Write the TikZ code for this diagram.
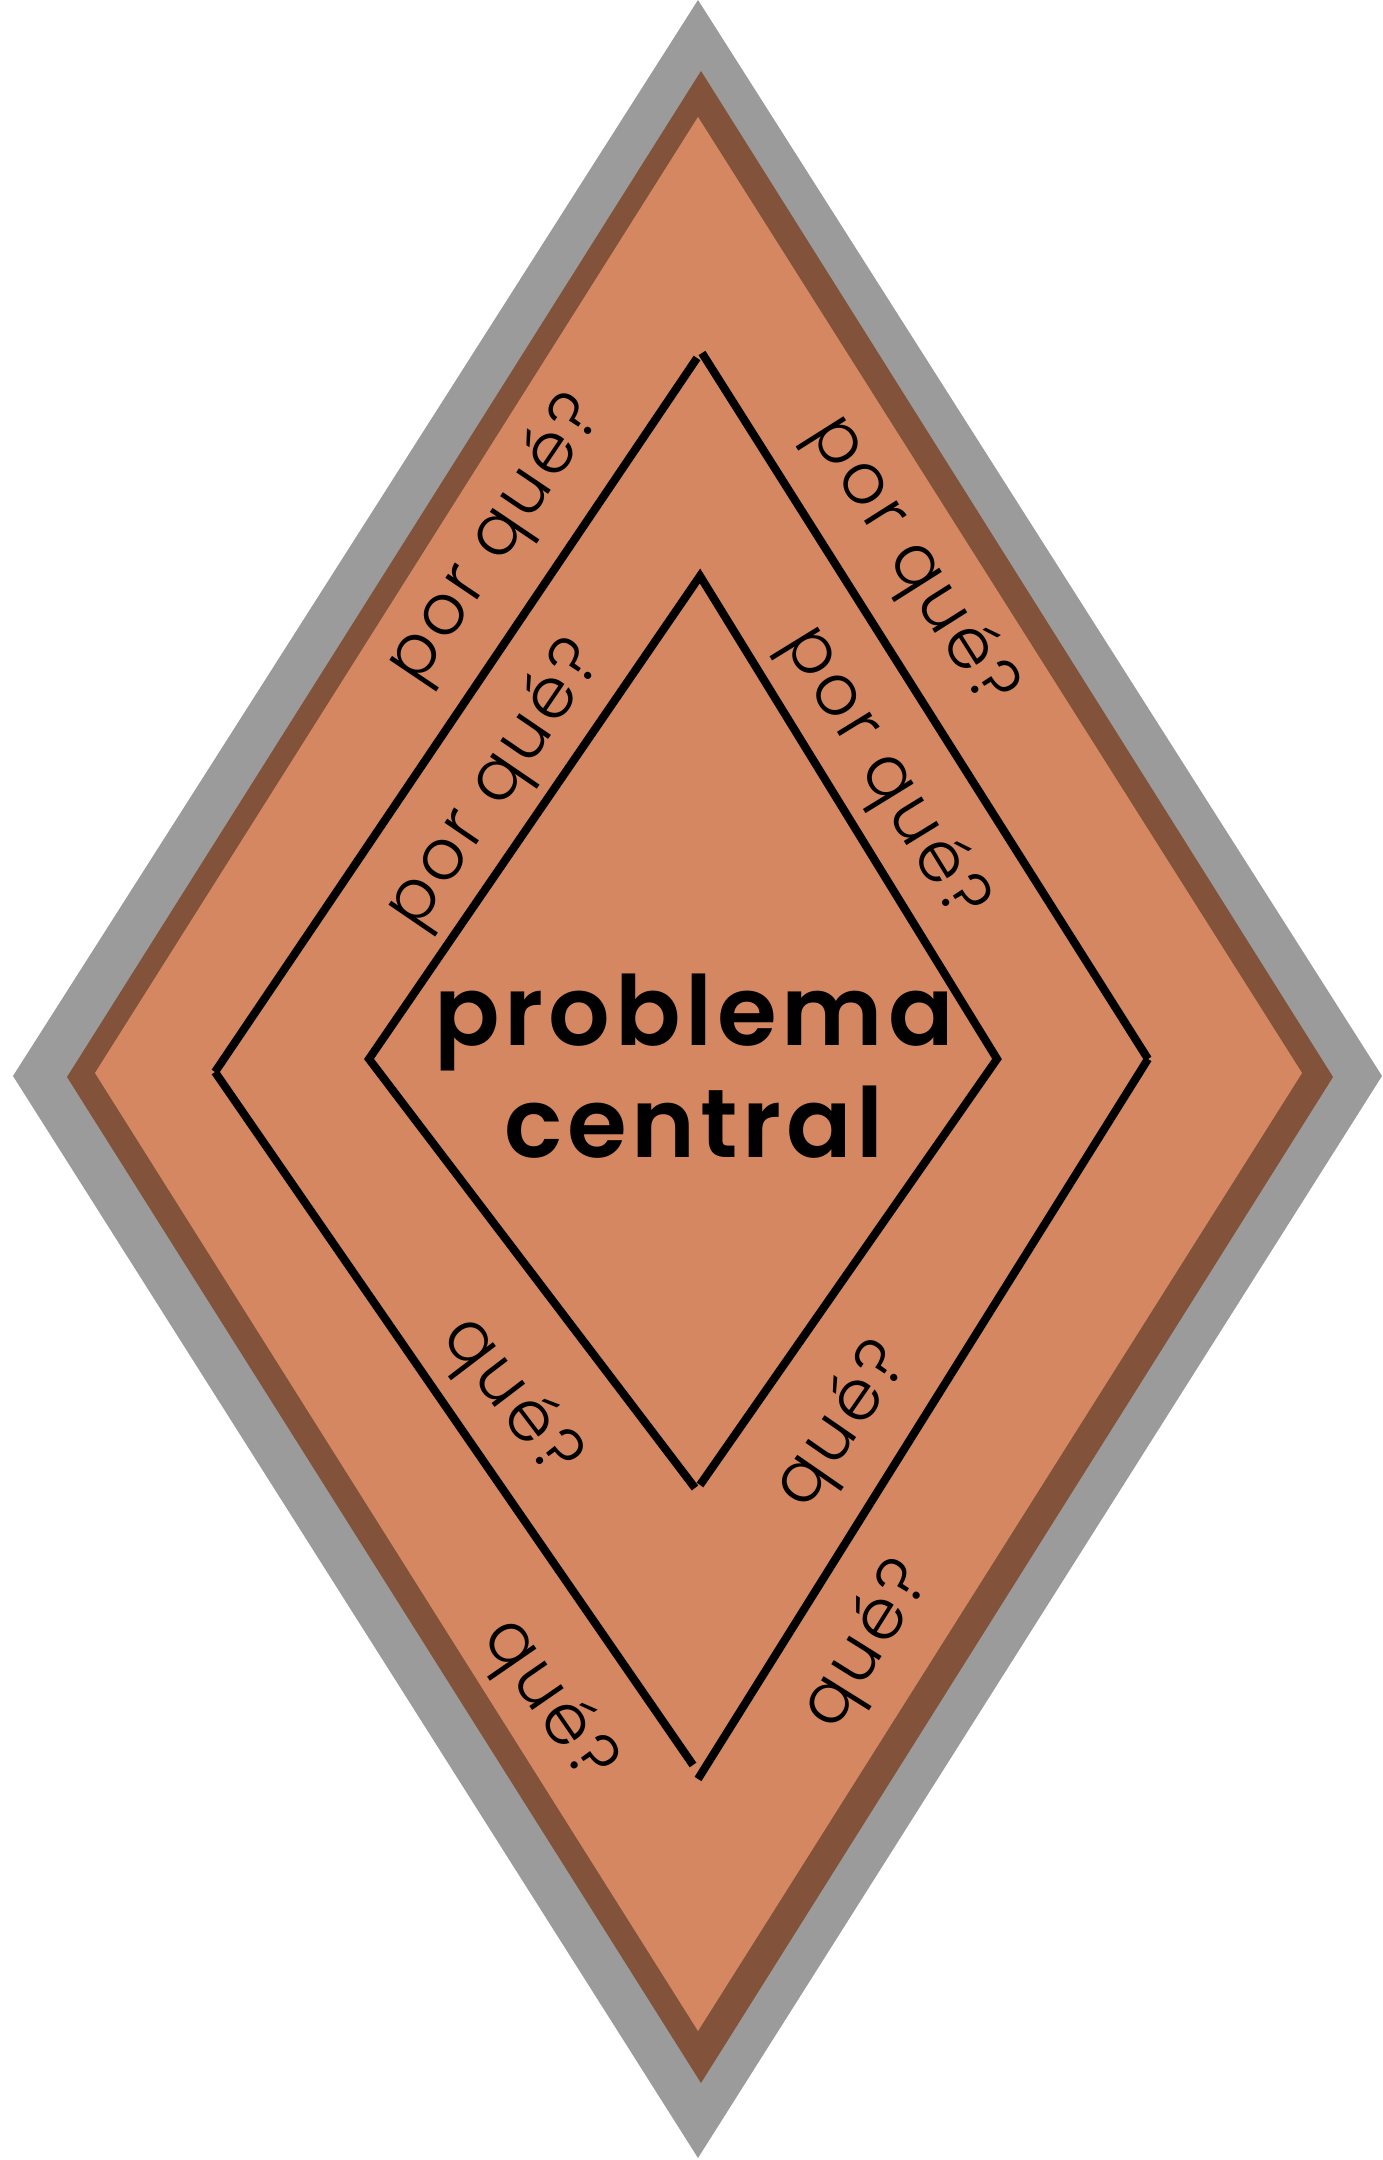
\documentclass[tikz,border=0pt]{standalone}
\usepackage{fontspec}
\usepackage{xcolor}
\usepackage{tikz}
\newfontfamily\whyfont{Poppins Light}[LetterSpace=5]
\newfontfamily\coreFont{Poppins}[LetterSpace=5, BoldFont={* SemiBold}]
\definecolor{rmgray}{HTML}{9B9B9B}
\definecolor{rmbrown}{HTML}{82533A}
\definecolor{rmorange}{HTML}{D48760}

\tikzset{
  chevron/.style={line width=2.3pt, black, line join=miter},
  why/.style={inner sep=0pt, font=\whyfont\fontsize{20}{24}\selectfont},
  core/.style={inner sep=0pt, align=center, font=\coreFont\bfseries\fontsize{27.5}{32}\selectfont}
}

\begin{document}
\begin{tikzpicture}[x=0.01cm, y=0.01cm]
  \useasboundingbox (0,0) rectangle (1383,2160);

  % Diamond frame
  \fill[rmgray] (698,2160) -- (13,1084) -- (698,2) -- (1382,1084) -- cycle;
  \fill[rmbrown] (701,2089) -- (67,1083) -- (701,77) -- (1333,1083) -- cycle;
  \fill[rmorange] (698,2043) -- (95,1087) -- (698,129) -- (1302,1087) -- cycle;

  % Outer chevrons
  \coordinate (oL) at (215,1088);
  \coordinate (oTa) at (697,1802);
  \coordinate (oTb) at (702,1807);
  \coordinate (oR) at (1148,1101);
  \coordinate (oBa) at (693,395);
  \coordinate (oBb) at (698,381);
  \draw[chevron] (oL) -- (oTa);
  \draw[chevron] (oTb) -- (oR);
  \draw[chevron] (oR) -- (oBb);
  \draw[chevron] (oBa) -- (oL);

  % Inner chevrons
  \coordinate (iL) at (369,1101);
  \coordinate (iT) at (700,1584);
  \coordinate (iR) at (997,1101);
  \coordinate (iBa) at (695,672);
  \coordinate (iBb) at (700,675);
  \draw[chevron] (iBa) -- (iL) -- (iT) -- (iR) -- (iBb);

  % Questions along the bands
  \node[why, rotate=56] (whyOL) at (496,1620) {por qué?};
  \node[why, rotate=-57.7] (whyOR) at (912,1598) {por qué?};
  \node[why, rotate=55.7] (whyIL) at (496,1375) {por qué?};
  \node[why, rotate=-58.4] (whyIR) at (884,1386) {por qué?};
  \node[why, rotate=-52.7] (queIL) at (510,762) {qué?};
  \node[why, rotate=55.3] (queIR) at (843,734) {qué?};
  \node[why, rotate=-55.4] (queOL) at (548,459) {qué?};
  \node[why, rotate=58] (queOR) at (868,514) {qué?};

  % Central problem
  \node[core] (problem) at (694,1094) {problema\\central};
\end{tikzpicture}
\end{document}
